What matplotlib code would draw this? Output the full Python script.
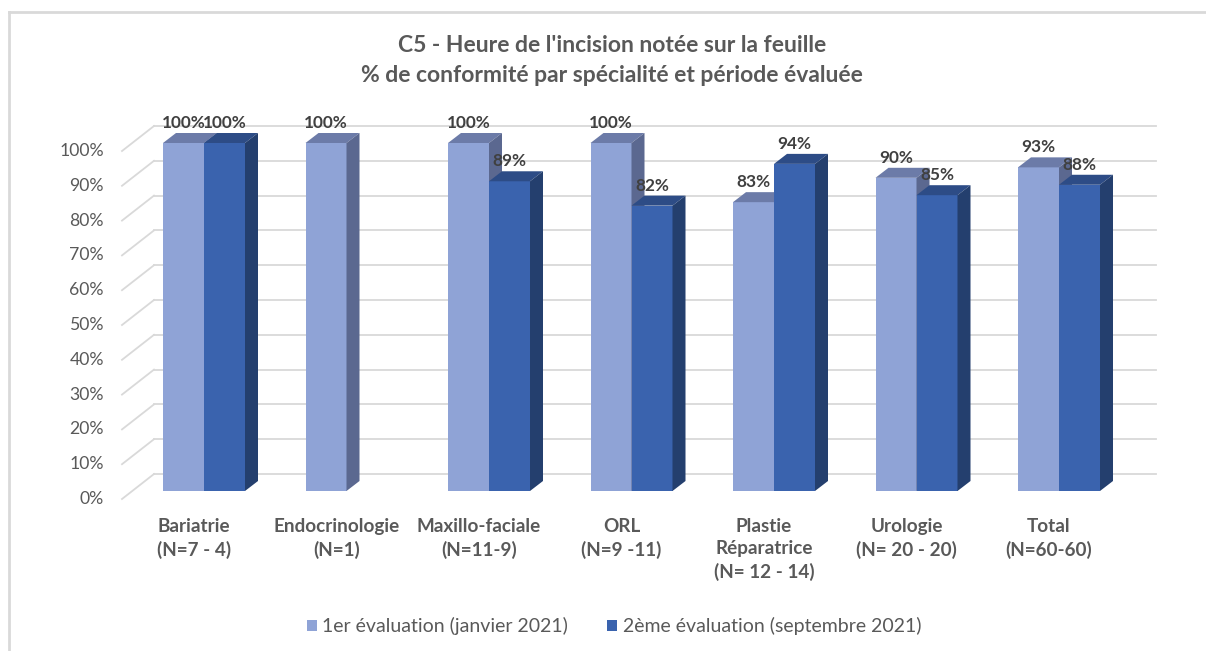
import matplotlib
matplotlib.use("Agg")
import matplotlib.pyplot as plt
from matplotlib.patches import Polygon, Patch
from matplotlib.lines import Line2D

plt.rcParams['font.family'] = ['Lato', 'DejaVu Sans']

categories = ["Bariatrie\n(N=7 - 4)", "Endocrinologie\n(N=1)", "Maxillo-faciale\n(N=11-9)",
              "ORL\n(N=9 -11)", "Plastie\nRéparatrice\n(N= 12 - 14)", "Urologie\n(N= 20 - 20)",
              "Total\n(N=60-60)"]
eval1 = [100, 100, 100, 100, 83, 90, 93]
eval2 = [100, None, 89, 82, 94, 85, 88]
series_names = ["1er évaluation (janvier 2021)", "2ème évaluation (septembre 2021)"]
yticks = list(range(0, 101, 10))

W, H = 1206, 651
SX, SY = 142.5, 3.48          # pixels per data unit
X0 = 204                      # pixel x of first group centre
BW = 41 / SX                  # bar width
DX, DY = 13 / SX, 10 / SY     # bar depth
GRAY = '#595959'

styles = [('#8FA3D6', '#6C7BA8', '#5B6890'),
          ('#3A63AE', '#2D4C86', '#243F6E')]

fig = plt.figure(figsize=(W / 100, H / 100), dpi=100)
ax = fig.add_axes([(X0 - 0.6 * SX) / W, (H - 491) / H, 7.2 * SX / W, 100 * SY / H])
ax.set_xlim(-0.6, 6.6)
ax.set_ylim(0, 100)
ax.axis('off')


def xd(p):
    return (p - X0) / SX


# walls: slanted ticks on the left and back gridlines
for t in yticks:
    y_front = t - 8 / SY
    y_back = t + 17 / SY
    ax.plot([xd(122), xd(154)], [y_front, y_back], color='#d9d9d9', lw=1.3,
            clip_on=False, zorder=1)
    ax.plot([xd(154), xd(1156)], [y_back, y_back], color='#d9d9d9', lw=1.3,
            clip_on=False, zorder=1)
    ax.text(xd(104), y_front, f"{t}%", ha='right', va='center', fontsize=12.7,
            color=GRAY, clip_on=False)


def bar3d(x0, h, cols):
    front, top, side = cols
    x1 = x0 + BW
    ax.add_patch(Polygon([(x0, 0), (x1, 0), (x1, h), (x0, h)], closed=True,
                         fc=front, ec='none', zorder=3, clip_on=False))
    ax.add_patch(Polygon([(x0, h), (x1, h), (x1 + DX, h + DY), (x0 + DX, h + DY)],
                         closed=True, fc=top, ec='none', zorder=3, clip_on=False))
    ax.add_patch(Polygon([(x1, 0), (x1 + DX, DY), (x1 + DX, h + DY), (x1, h)],
                         closed=True, fc=side, ec='none', zorder=3, clip_on=False))


for i in range(len(categories)):
    for s, vals in enumerate([eval1, eval2]):
        v = vals[i]
        if v is None:
            continue
        x0 = i - BW + s * BW
        bar3d(x0, v, styles[s])
    for s, vals in enumerate([eval1, eval2]):
        v = vals[i]
        if v is None:
            continue
        x0 = i - BW + s * BW
        ax.text(x0 + BW / 2, v + 20 / SY, f"{v}%", ha='center', va='center',
                fontsize=12.4, fontweight='bold', color='#404040', zorder=5, clip_on=False)
    ax.text(i - 10 / SX, -27 / SY, categories[i], ha='center', va='top', fontsize=13.6,
            fontweight='bold', color=GRAY, linespacing=1.38, clip_on=False)

fig.text(612 / W, 1 - 46 / H, "C5 - Heure de l'incision notée sur la feuille",
         ha='center', va='center', fontsize=16.5, fontweight='bold', color=GRAY)
fig.text(612 / W, 1 - 76 / H, "% de conformité par spécialité et période évaluée",
         ha='center', va='center', fontsize=16.5, fontweight='bold', color=GRAY)

handles = [Patch(fc=styles[0][0], ec='none'), Patch(fc=styles[1][0], ec='none')]
fig.legend(handles, series_names, loc='center', bbox_to_anchor=(614 / W, 1 - 626 / H),
           ncol=2, frameon=False, fontsize=14, handlelength=0.5, handleheight=0.5,
           handletextpad=0.3, columnspacing=2.0, labelcolor=GRAY)

# chart frame (top and left edges visible)
fig.add_artist(Line2D([9 / W, 9 / W], [0, 1 - 12 / H], color='#d9d9d9', lw=2))
fig.add_artist(Line2D([9 / W, 1], [1 - 12 / H, 1 - 12 / H], color='#d9d9d9', lw=2))

fig.savefig("out.png", dpi=100)
